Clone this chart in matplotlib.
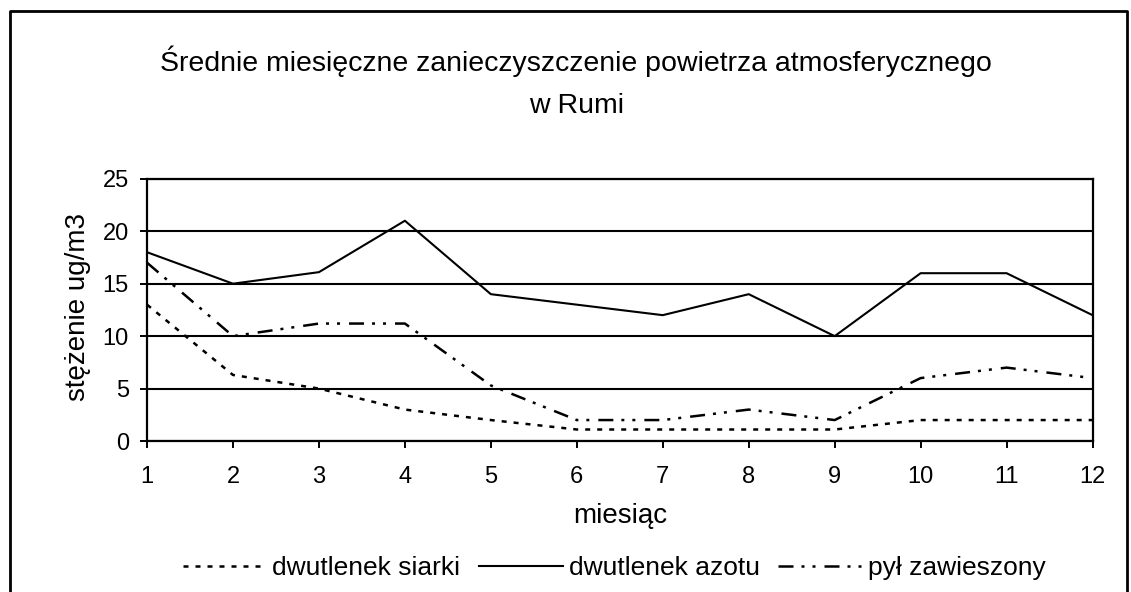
import matplotlib
matplotlib.use("Agg")
import matplotlib.pyplot as plt
from matplotlib.lines import Line2D

plt.rcParams['font.family'] = ['Liberation Sans', 'DejaVu Sans']

months = [1, 2, 3, 4, 5, 6, 7, 8, 9, 10, 11, 12]
so2 = [13, 6.3, 5, 3, 2, 1.1, 1.1, 1.1, 1.1, 2, 2, 2]
no2 = [18, 15, 16.1, 21, 14, 13, 12, 14, 10, 16, 16, 12]
pm = [17, 10, 11.2, 11.2, 5.3, 2, 2, 3, 2, 6, 7, 6]
labels = ["dwutlenek siarki", "dwutlenek azotu", "pył zawieszony"]
yticks = [0, 5, 10, 15, 20, 25]

fig = plt.figure(figsize=(11.31, 5.92), dpi=100)
ax = fig.add_axes([0.130, 0.255, 0.836, 0.443])

l1, = ax.plot(months, so2, color='black', lw=1.8, linestyle=(0, (2.0, 2.8)), label=labels[0])
l2, = ax.plot(months, no2, color='black', lw=1.5, linestyle='-', label=labels[1])
l3, = ax.plot(months, pm, color='black', lw=1.8,
              linestyle=(0, (6, 3.2, 1.2, 3.2, 1.2, 3.6)), label=labels[2])

ax.set_xlim(1, 12)
ax.set_ylim(0, 25)
ax.set_xticks(months)
ax.set_yticks(yticks)
ax.yaxis.grid(True, color='black', lw=1.5)
ax.set_axisbelow(True)
for s in ax.spines.values():
    s.set_linewidth(1.6)
ax.tick_params(axis='both', direction='out', length=5, width=1.4, labelsize=17, colors='black')
ax.tick_params(axis='x', pad=13)
ax.tick_params(axis='y', pad=8)
ax.set_xlabel("miesiąc", fontsize=20)
ax.set_ylabel("stężenie ug/m3", fontsize=20)
ax.xaxis.set_label_coords(0.5, -0.286)
ax.xaxis.label.set_va('center')
ax.yaxis.set_label_coords(-0.073, 0.51)
ax.yaxis.label.set_va('center')

fig.text(0.509, 0.880, "Średnie miesięczne zanieczyszczenie powietrza atmosferycznego",
         ha='center', va='baseline', fontsize=20.5)
fig.text(0.510, 0.809, "w Rumi", ha='center', va='baseline', fontsize=20.5)

fig.legend(handles=[l1, l2, l3], labels=labels, loc='center', bbox_to_anchor=(0.543, 0.040),
           ncol=3, frameon=False, fontsize=19, handlelength=3.2, handletextpad=0.2,
           columnspacing=0.7, borderpad=0, borderaxespad=0)

# outer frame (left, top, right)
fig.add_artist(Line2D([0.0088, 0.0088, 0.9965, 0.9965], [0.0, 0.9806, 0.9806, 0.0],
                      transform=fig.transFigure, color='black', lw=2.0))

fig.savefig("out.png", dpi=100)
